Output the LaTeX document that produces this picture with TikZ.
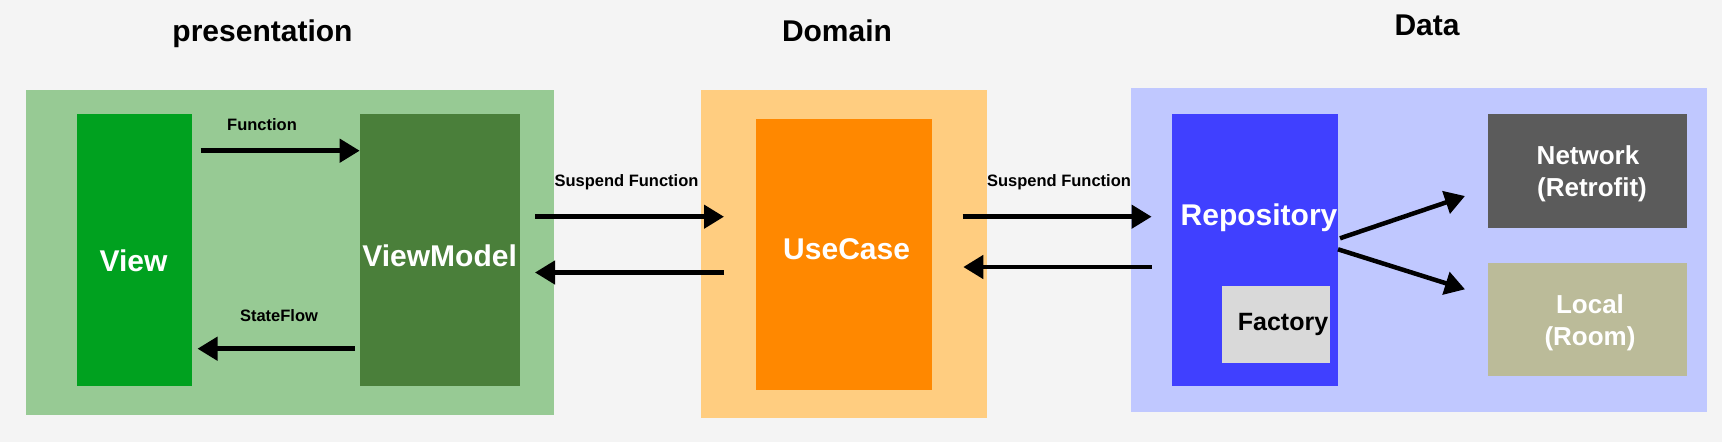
\documentclass[tikz,border=0pt]{standalone}
\usepackage{fontspec}
\setmainfont{Liberation Sans}
\usetikzlibrary{arrows.meta}
\definecolor{bgc}{HTML}{F4F4F4}
\definecolor{greenout}{HTML}{97CA94}
\definecolor{viewc}{HTML}{00A11F}
\definecolor{vmc}{HTML}{4A7F3A}
\definecolor{domout}{HTML}{FFCD80}
\definecolor{ucc}{HTML}{FF8800}
\definecolor{dataout}{HTML}{C0C8FF}
\definecolor{repoc}{HTML}{4040FF}
\definecolor{factc}{HTML}{D9D9D9}
\definecolor{netc}{HTML}{5B5B5B}
\definecolor{locc}{HTML}{BBBB99}
\tikzset{
  box/.style={anchor=north west, inner sep=0pt, draw=none},
  title/.style={anchor=base, font=\bfseries\fontsize{30}{32}\selectfont, text=black, inner sep=0pt},
  big/.style={anchor=base, font=\bfseries\fontsize{30}{32}\selectfont, text=white, inner sep=0pt},
  mid/.style={anchor=base, font=\bfseries\fontsize{26}{28}\selectfont, inner sep=0pt},
  small/.style={anchor=base, font=\bfseries\fontsize{16.5}{18}\selectfont, text=black, inner sep=0pt},
  arr/.style={line width=4.5pt, -{Triangle[length=20pt,width=23pt]}}
}
\begin{document}
\begin{tikzpicture}[x=1pt,y=-1pt]
\fill[bgc] (0,0) rectangle (1722,442);
\useasboundingbox (0,0) rectangle (1722,442);
% outer boxes
\node[box, fill=greenout, minimum width=528pt, minimum height=325pt] (pres) at (26,90) {};
\node[box, fill=domout, minimum width=286pt, minimum height=328pt] (dom) at (700.4,90) {};
\node[box, fill=dataout, minimum width=576pt, minimum height=324.4pt] (data) at (1131,87.3) {};
% inner boxes
\node[box, fill=viewc, minimum width=115pt, minimum height=271.7pt] (view) at (76.5,114) {};
\node[box, fill=vmc, minimum width=160pt, minimum height=271.7pt] (vm) at (359.7,114) {};
\node[box, fill=ucc, minimum width=176pt, minimum height=271pt] (uc) at (755.5,119) {};
\node[box, fill=repoc, minimum width=166.2pt, minimum height=271.7pt] (repo) at (1171.8,114) {};
\node[box, fill=factc, minimum width=107.8pt, minimum height=77pt] (fact) at (1222.2,285.3) {};
\node[box, fill=netc, minimum width=199pt, minimum height=113.7pt] (net) at (1488,114) {};
\node[box, fill=locc, minimum width=199pt, minimum height=113.4pt] (loc) at (1488,262.3) {};
% titles
\node[title] (tpres) at (262.5,41.7) {presentation};
\node[title] (tdom) at (837,41.7) {Domain};
\node[title] (tdata) at (1427,35.7) {Data};
% box texts
\node[big] (tview) at (133.5,271.7) {View};
\node[big] (tvm) at (439.6,266.7) {ViewModel};
\node[big] (tuc) at (846.6,259.3) {UseCase};
\node[big] (trepo) at (1259,225) {Repository};
\node[mid, text=black, font=\bfseries\fontsize{25}{27}\selectfont] (tfact) at (1283,330) {Factory};
\node[mid, text=white] (tnet1) at (1588,164.3) {Network};
\node[mid, text=white] (tnet2) at (1592,196.7) {(Retrofit)};
\node[mid, text=white] (tloc1) at (1590,313.3) {Local};
\node[mid, text=white] (tloc2) at (1590,345) {(Room)};
% arrow labels
\node[small] (lfun) at (262,130) {Function};
\node[small] (lsf) at (279,321.7) {StateFlow};
\node[small] (lsusl) at (626.5,186.7) {Suspend Function};
\node[small] (lsusr) at (1059,186.7) {Suspend Function};
% arrow end points
\coordinate (a1s) at (200.5,150.7);
\coordinate (a2s) at (355,348.7);
\coordinate (a2e) at (197.5,348.7);
\coordinate (a3s) at (535,216.7);
\coordinate (a3e) at (724,216.7);
\coordinate (a4s) at (724,272.5);
\coordinate (a4e) at (535,272.5);
\coordinate (a5s) at (962.5,216.7);
\coordinate (a5e) at (1151.6,216.7);
\coordinate (a6s) at (1151.6,267);
\coordinate (a6e) at (963.3,267);
\coordinate (a7s) at (1340,238.3);
\coordinate (a7e) at (1465,196);
\coordinate (a8s) at (1338,249.3);
\coordinate (a8e) at (1465,289.3);
% arrows
\draw[arr] (a1s) -- (a1s -| vm.west);
\draw[arr] (a2s) -- (a2e);
\draw[arr] (a3s) -- (a3e);
\draw[arr] (a4s) -- (a4e);
\draw[arr] (a5s) -- (a5e);
\draw[arr] (a6s) -- (a6e);
\draw[arr] (a7s) -- (a7e);
\draw[arr] (a8s) -- (a8e);
\end{tikzpicture}
\end{document}
